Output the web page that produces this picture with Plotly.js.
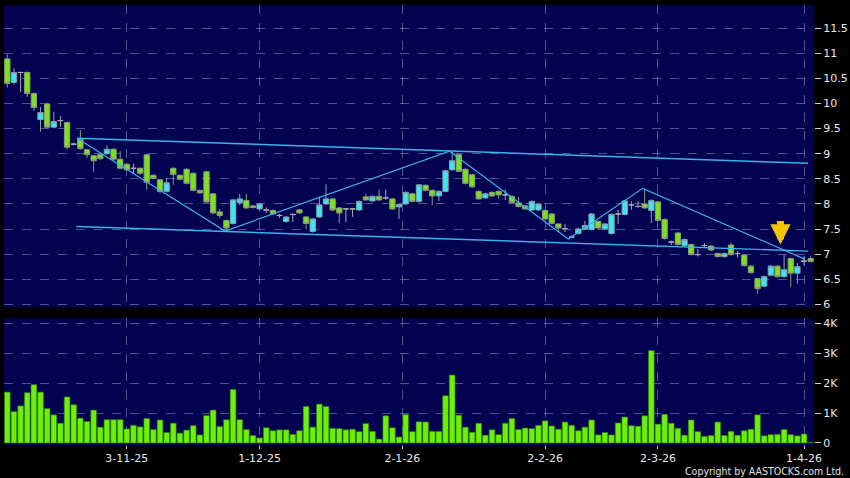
<!DOCTYPE html>
<html>
<head>
<meta charset="utf-8">
<script src="https://cdn.plot.ly/plotly-3.0.1.min.js"></script>
<style>html,body{margin:0;padding:0;background:#000;}#chart{width:850px;height:478px;}</style>
</head>
<body>
<div id="chart"></div>
<script>
// ---- data (one entry per trading day, index 0..121) ----
const openP  = [10.89,10.42,10.62,10.62,10.20,9.68,9.99,9.53,9.66,9.62,
                9.19,9.29,9.08,8.96,8.98,9.00,9.09,8.89,8.79,8.71,
                8.71,8.98,8.57,8.48,8.25,8.71,8.57,8.69,8.61,8.27,
                8.64,8.20,7.84,7.67,7.61,8.03,8.07,7.96,7.90,7.88,
                7.87,7.77,7.65,7.79,7.88,7.74,7.45,7.74,8.00,8.10,
                7.92,7.90,7.90,7.88,8.14,8.06,8.15,8.12,8.10,7.94,
                8.00,8.20,8.05,8.37,8.27,8.16,8.25,8.68,8.98,8.69,
                8.58,8.25,8.12,8.23,8.25,8.18,8.15,8.02,7.96,7.88,
                7.88,7.87,7.80,7.60,7.51,7.34,7.41,7.50,7.49,7.65,
                7.50,7.41,7.80,7.79,7.98,7.95,8.00,7.87,8.04,7.69,
                7.24,7.42,7.17,7.19,6.99,7.17,7.16,7.01,6.95,7.18,
                7.01,6.98,6.76,6.51,6.36,6.58,6.76,6.55,6.91,6.62,
                6.86,6.91];
const highP  = [10.98,10.70,10.63,10.64,10.22,9.93,10.01,9.84,9.75,9.64,
                9.22,9.47,9.10,8.98,9.00,9.17,9.11,9.05,8.82,8.80,
                8.73,9.00,8.59,8.50,8.52,8.73,8.59,8.71,8.63,8.29,
                8.66,8.22,7.90,7.69,8.10,8.20,8.20,7.98,8.02,7.93,
                7.89,7.80,7.76,7.81,7.90,7.76,7.72,8.15,8.39,8.12,
                7.94,7.92,7.92,8.07,8.20,8.17,8.29,8.29,8.12,8.01,
                8.25,8.22,8.40,8.39,8.29,8.27,8.68,9.04,9.00,8.71,
                8.60,8.27,8.22,8.25,8.27,8.28,8.17,8.14,7.98,8.07,
                8.02,7.89,7.82,7.62,7.60,7.37,7.52,7.66,7.82,7.67,
                7.62,7.81,7.88,8.08,8.05,8.05,8.30,8.09,8.06,7.71,
                7.27,7.44,7.31,7.21,7.10,7.22,7.18,7.03,7.03,7.23,
                7.06,7.00,6.78,6.53,6.57,6.78,6.78,6.99,6.93,6.82,
                6.96,6.96];
const lowP   = [10.32,10.38,10.23,10.13,9.85,9.44,9.50,9.51,9.53,9.08,
                9.16,9.08,8.92,8.63,8.88,8.98,8.87,8.70,8.66,8.60,
                8.58,8.28,8.50,8.22,8.23,8.38,8.47,8.39,8.25,8.20,
                8.02,7.80,7.72,7.48,7.59,7.98,7.90,7.91,7.88,7.82,
                7.78,7.72,7.63,7.64,7.80,7.49,7.43,7.72,7.98,7.86,
                7.62,7.63,7.74,7.86,8.06,8.04,8.06,8.08,7.88,7.70,
                7.98,8.03,8.03,8.25,7.98,8.06,8.23,8.66,8.63,8.39,
                8.32,8.08,8.10,8.14,8.10,8.08,8.01,7.93,7.88,7.86,
                7.86,7.68,7.59,7.44,7.44,7.31,7.39,7.48,7.47,7.50,
                7.48,7.39,7.60,7.77,7.88,7.92,7.90,7.62,7.65,7.29,
                7.18,7.17,7.15,6.97,6.95,7.12,7.06,6.93,6.93,6.97,
                6.93,6.75,6.61,6.21,6.34,6.56,6.53,6.53,6.35,6.41,
                6.78,6.84];
const closeP = [10.40,10.62,10.62,10.20,9.92,9.82,9.53,9.64,9.66,9.13,
                9.19,9.10,8.98,8.86,8.90,9.09,8.89,8.71,8.68,8.71,
                8.61,8.43,8.51,8.25,8.42,8.59,8.49,8.41,8.27,8.22,
                8.04,7.82,7.77,7.52,8.08,8.10,7.92,7.93,8.00,7.88,
                7.80,7.77,7.74,7.79,7.82,7.61,7.70,7.98,8.10,7.88,
                7.82,7.90,7.90,8.05,8.08,8.15,8.08,8.12,7.90,7.99,
                8.23,8.05,8.38,8.27,8.16,8.25,8.66,8.86,8.65,8.41,
                8.34,8.10,8.20,8.16,8.18,8.18,8.03,7.95,7.90,8.05,
                8.00,7.70,7.61,7.52,7.51,7.34,7.50,7.57,7.80,7.52,
                7.60,7.79,7.80,8.06,7.98,7.95,7.92,8.07,7.67,7.31,
                7.24,7.19,7.29,6.99,6.99,7.17,7.08,6.95,7.01,6.99,
                7.01,6.77,6.63,6.31,6.55,6.76,6.55,6.69,6.62,6.75,
                6.86,6.85];
// volume in shares (K = thousand)
const volume = [1700,1050,1240,1680,1950,1700,1150,940,660,1540,
                1280,830,720,1100,530,780,780,780,470,590,
                540,820,450,770,350,660,330,430,580,270,
                920,1100,550,780,1790,780,450,250,170,510,
                410,440,440,290,410,1220,530,1300,1220,490,
                480,440,460,380,650,390,130,910,510,200,
                950,380,710,700,390,390,1580,2270,930,530,
                360,660,260,440,280,660,820,450,500,480,
                590,740,570,460,700,590,410,530,770,270,
                350,270,670,870,580,560,910,3090,630,960,
                660,490,260,770,380,220,250,700,250,390,
                260,410,460,940,240,280,290,450,280,240,
                300,30];
// x-axis date labels and the trading-day index where each sits
const tickLabels = ['3-11-25','1-12-25','2-1-26','2-2-26','2-3-26','1-4-26'];
const tickIndex  = [18, 38, 59.5, 81, 98, 120];
const priceTicks = [6,6.5,7,7.5,8,8.5,9,9.5,10,10.5,11,11.5];
const volTicks   = [0,1000,2000,3000,4000];
const volTickText= ['0','1K','2K','3K','4K'];
// hand-drawn trend lines (trading-day index, price)
const zigzagX = [10.5, 32.8, 66.6, 84.5, 95.7, 120.1];
const zigzagY = [9.31, 7.46, 9.05, 7.30, 8.31, 6.90];
const upperX  = [10.5, 120.6];
const upperY  = [9.31, 8.81];
const lowerX  = [10.4, 120.6];
const lowerY  = [7.55, 7.06];
const signalX = [116.45];
const signalY = [7.19];

// ---- build traces ----
const idxAll = openP.map((_, i) => i);
function candleSet(filterFn, fill, line, name) {
  const ids = idxAll.filter(filterFn);
  return {
    type: 'candlestick', name: name, xaxis: 'x', yaxis: 'y',
    x: ids, open: ids.map(i => openP[i]), high: ids.map(i => highP[i]),
    low: ids.map(i => lowP[i]), close: ids.map(i => closeP[i]),
    increasing: {fillcolor: fill, line: {color: line, width: 1}},
    decreasing: {fillcolor: fill, line: {color: line, width: 1}},
    whiskerwidth: 0, hoverinfo: 'skip', showlegend: false
  };
}
const upTrace   = candleSet(i => closeP[i] > openP[i], '#3ee6f2', '#7fa6ab', 'up');
const downTrace = candleSet(i => closeP[i] < openP[i], '#7de21e', '#8a9c78', 'down');
const flatTrace = candleSet(i => closeP[i] === openP[i], '#aaaaaa', '#a8a8a8', 'flat');

const lineStyle = {color: '#3cb2ea', width: 1.4};
const zig   = {type: 'scatter', mode: 'lines', x: zigzagX, y: zigzagY, line: {color: '#3cb2ea', width: 1.2}, xaxis: 'x', yaxis: 'y', hoverinfo: 'skip'};
const upper = {type: 'scatter', mode: 'lines', x: upperX, y: upperY, line: lineStyle, xaxis: 'x', yaxis: 'y', hoverinfo: 'skip'};
const lower = {type: 'scatter', mode: 'lines', x: lowerX, y: lowerY, line: lineStyle, xaxis: 'x', yaxis: 'y', hoverinfo: 'skip'};

const volColors = volume.map((v, i) => i === volume.length - 1 ? '#4b5a78' : '#6cf00a');
const vol = {
  type: 'bar', x: idxAll, y: volume, xaxis: 'x2', yaxis: 'y2',
  marker: {color: volColors, line: {color: '#2f7a08', width: 0.6}},
  hoverinfo: 'skip'
};

const gridC = 'rgba(150,150,200,0.55)';
const tickFont = {family: 'DejaVu Sans', size: 11, color: '#e8e8e8'};

const layout = {
  width: 850, height: 478,
  margin: {l: 4, r: 36, t: 5, b: 33},
  paper_bgcolor: '#000000', plot_bgcolor: '#020250',
  showlegend: false,
  boxmode: 'overlay', boxgap: 0.2, boxgroupgap: 0,
  bargap: 0.14,
  xaxis: {
    domain: [0, 1], anchor: 'y', range: [-0.5, 121.5], type: 'linear',
    tickvals: tickIndex, ticktext: tickLabels, showticklabels: false, ticks: '',
    showgrid: true, gridcolor: gridC, griddash: 'dash', gridwidth: 1,
    zeroline: false, showline: false, rangeslider: {visible: false}, fixedrange: true
  },
  yaxis: {
    domain: [0.313, 1], anchor: 'x', side: 'right', range: [5.94, 11.964],
    tickvals: priceTicks, ticktext: priceTicks.map(String),
    ticks: 'outside', ticklen: 6, tickcolor: '#d0d0d0', tickfont: tickFont,
    showgrid: true, gridcolor: gridC, griddash: 'dash', zeroline: false, showline: false
  },
  xaxis2: {
    domain: [0, 1], anchor: 'y2', range: [-0.5, 121.5], type: 'linear',
    tickvals: tickIndex, ticktext: tickLabels, ticks: 'outside', ticklen: 3, tickcolor: '#d0d0d0',
    tickfont: tickFont, showgrid: true, gridcolor: gridC, griddash: 'dash',
    zeroline: false, showline: false
  },
  yaxis2: {
    domain: [0, 0.2886], anchor: 'x2', side: 'right', range: [-67, 4177],
    tickvals: volTicks, ticktext: volTickText,
    ticks: 'outside', ticklen: 6, tickcolor: '#d0d0d0', tickfont: tickFont,
    showgrid: true, gridcolor: gridC, griddash: 'dash', zeroline: false, showline: false
  },
  annotations: [
    {
      xref: 'x', yref: 'y', x: signalX[0], y: signalY[0], text: '',
      font: {size: 1}, borderpad: 0, standoff: 0, startstandoff: 0,
      showarrow: true, ax: 0, ay: -24, axref: 'pixel', ayref: 'pixel',
      arrowcolor: '#f4c400', arrowwidth: 7, arrowhead: 2, arrowsize: 0.58
    },
    {
      xref: 'paper', yref: 'paper', x: 1.0395, y: -0.06, xanchor: 'right', yanchor: 'middle',
      text: 'Copyright by AASTOCKS.com Ltd.', showarrow: false,
      font: {family: 'DejaVu Sans Condensed', size: 10.5, color: '#e0e0e0'}
    }
  ]
};

Plotly.newPlot('chart', [vol, lower, upper, zig, flatTrace, downTrace, upTrace], layout,
  {displayModeBar: false, staticPlot: true});
</script>
</body>
</html>
